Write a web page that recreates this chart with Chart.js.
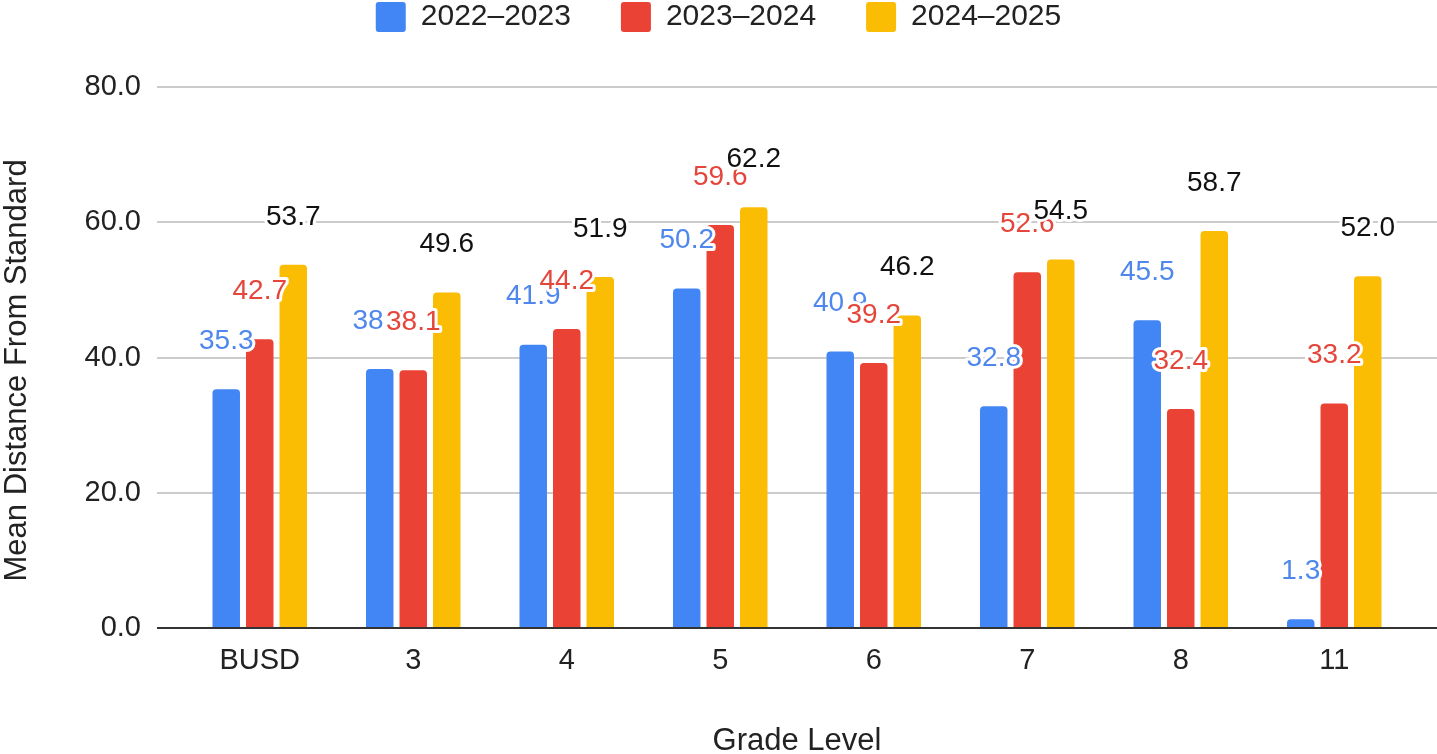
<!DOCTYPE html>
<html>
<head>
<meta charset="utf-8">
<script src="https://cdn.jsdelivr.net/npm/chart.js@4.4.1/dist/chart.umd.min.js"></script>
<style>
  html, body { margin: 0; padding: 0; background: #fff; }
  #wrap { width: 1437px; height: 754px; }
</style>
</head>
<body>
<div id="wrap"><canvas id="chart"></canvas></div>
<script>
const categories = ["BUSD", "3", "4", "5", "6", "7", "8", "11"];
const seriesNames = ["2022–2023", "2023–2024", "2024–2025"];
const values2223 = [35.3, 38.3, 41.9, 50.2, 40.9, 32.8, 45.5, 1.3];
const values2324 = [42.7, 38.1, 44.2, 59.6, 39.2, 52.6, 32.4, 33.2];
const values2425 = [53.7, 49.6, 51.9, 62.2, 46.2, 54.5, 58.7, 52.0];
const yTicks = [0, 20, 40, 60, 80];

const barColors = ["#4285f4", "#ea4335", "#fbbc04"];
const labelColors = ["#4f87ec", "#e5463b", "#111111"];
const FONT = "Arial, 'Liberation Sans', sans-serif";
const LEGEND_TOP = -48;
const PLOT_TOP = 87;

// value labels above each bar, with a white halo like the sheets export
const barLabels = {
  id: "barLabels",
  beforeInit(chart) {
    // make the legend box reach down to where the plot starts
    const legend = chart.legend;
    if (!legend) return;
    const fit = legend.fit;
    legend.fit = function () {
      fit.call(this);
      this.height = PLOT_TOP - LEGEND_TOP;
    };
  },
  afterDatasetsDraw(chart) {
    const ctx = chart.ctx;
    ctx.save();
    ctx.font = "28px " + FONT;
    ctx.textAlign = "center";
    ctx.textBaseline = "middle";
    ctx.lineJoin = "round";
    chart.data.datasets.forEach((ds, i) => {
      const meta = chart.getDatasetMeta(i);
      meta.data.forEach((bar, j) => {
        const text = Number(ds.data[j]).toFixed(1);
        const y = bar.y - 48;
        ctx.lineWidth = 6;
        ctx.strokeStyle = "#ffffff";
        ctx.strokeText(text, bar.x, y);
        ctx.fillStyle = labelColors[i];
        ctx.fillText(text, bar.x, y);
      });
    });
    ctx.restore();
  },
};

function gridColor(c) {
  return c.tick && c.tick.value === 0 ? "#333333" : "#cccccc";
}

const ctx = document.getElementById("chart").getContext("2d");

new Chart(ctx, {
  type: "bar",
  data: {
    labels: categories,
    datasets: [values2223, values2324, values2425].map((vals, i) => ({
      label: seriesNames[i],
      data: vals,
      backgroundColor: barColors[i],
      borderRadius: 4,
      categoryPercentage: 0.655,
      barPercentage: 0.82,
    })),
  },
  options: {
    responsive: true,
    maintainAspectRatio: false,
    animation: false,
    layout: { padding: { top: LEGEND_TOP, left: 0, right: 0, bottom: 0 } },
    plugins: {
      legend: {
        position: "top",
        labels: {
          font: { family: FONT, size: 30 },
          color: "#222222",
          boxWidth: 30,
          boxHeight: 30,
          padding: 50,
          useBorderRadius: true,
          borderRadius: 3,
        },
      },
      tooltip: { enabled: false },
    },
    scales: {
      x: {
        grid: { display: false, drawTicks: false },
        border: { display: false },
        ticks: {
          font: { family: FONT, size: 29 },
          color: "#222222",
          padding: 16,
        },
        title: {
          display: true,
          text: "Grade Level",
          font: { family: FONT, size: 31, lineHeight: 0.8 },
          color: "#222222",
          padding: { top: 0, bottom: 0 },
        },
        afterFit(scale) {
          scale.height = 126;
        },
      },
      y: {
        min: 0,
        max: 80,
        afterBuildTicks(scale) {
          scale.ticks = yTicks.map((v) => ({ value: v }));
        },
        grid: {
          color: gridColor,
          lineWidth: 2,
          tickLength: 26,
        },
        border: { display: false },
        ticks: {
          font: { family: FONT, size: 29 },
          color: "#222222",
          padding: 16,
          callback: (v) => Number(v).toFixed(1),
        },
        title: {
          display: true,
          text: "Mean Distance From Standard   ",
          font: { family: FONT, size: 31, lineHeight: 1.0 },
          color: "#222222",
          padding: { top: 2, bottom: 0 },
        },
        afterFit(scale) {
          scale.width = 183;
        },
      },
      y2: {
        position: "right",
        min: 0,
        max: 80,
        afterBuildTicks(scale) {
          scale.ticks = yTicks.map((v) => ({ value: v }));
        },
        grid: {
          color: gridColor,
          lineWidth: 2,
          tickLength: 26,
          drawOnChartArea: false,
        },
        border: { display: false },
        ticks: { display: false },
        afterFit(scale) {
          scale.width = 26;
        },
      },
    },
  },
  plugins: [barLabels],
});
</script>
</body>
</html>
